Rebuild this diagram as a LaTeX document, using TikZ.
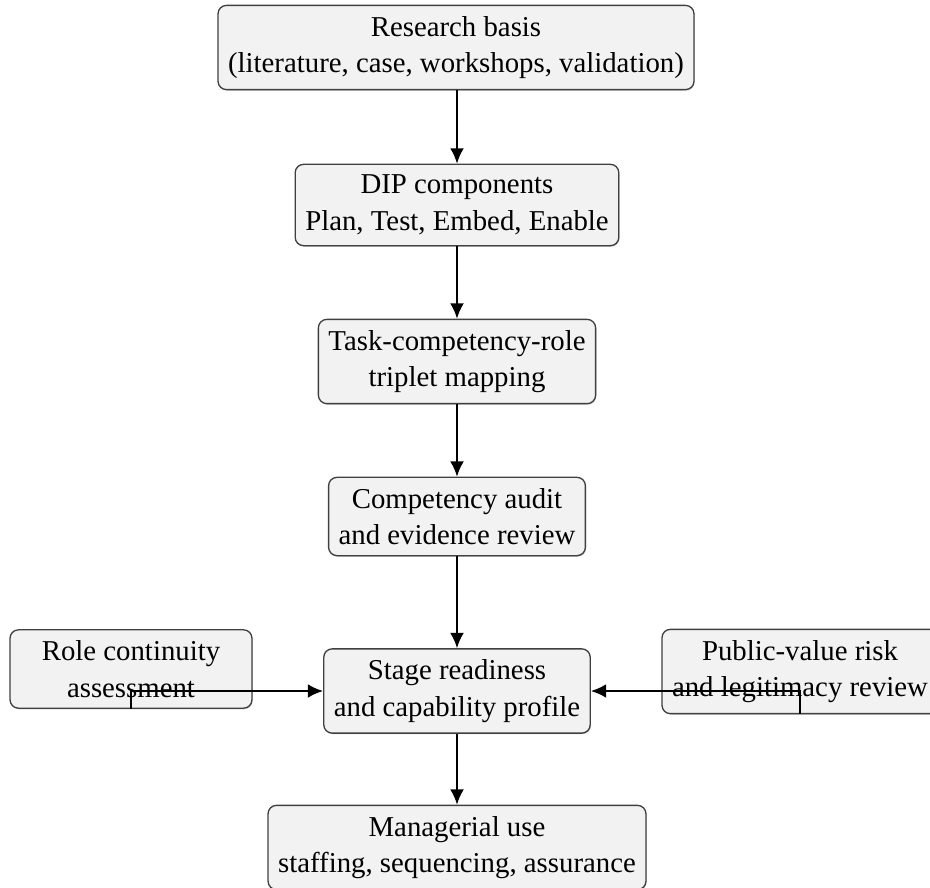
\documentclass[tikz,border=0pt]{standalone}
\usepackage{fontspec}
\setmainfont{Liberation Serif}
\usetikzlibrary{arrows.meta,shadows}
\begin{document}
\begin{tikzpicture}[x=0.4167pt,y=-0.4167pt,
  box/.style={draw=black!75, fill=black!5, line width=0.55pt, rounded corners=3.5pt,
    align=center, inner xsep=4.2pt, inner ysep=4.5pt,
    font=\fontsize{12}{15.2}\selectfont,
    drop shadow={shadow xshift=0.3pt, shadow yshift=-0.45pt, opacity=0.35, fill=black!60}},
  arr/.style={line width=0.85pt, -{Latex[length=6.4pt,width=5.8pt]}}]
\useasboundingbox (0,0) rectangle (930,888);
\node[box] (res) at (456,47.5) {Research basis\\(literature, case, workshops, validation)};
\node[box] (dip) at (457,205) {DIP components\\Plan, Test, Embed, Enable};
\node[box] (task) at (457,361.5) {Task-competency-role\\triplet mapping};
\node[box] (aud) at (457,516.5) {Competency audit\\and evidence review};
\node[box] (stage) at (457,691) {Stage readiness\\and capability profile};
\node[box] (man) at (457,847.5) {Managerial use\\staffing, sequencing, assurance};
\node[box, minimum width=100.8pt] (role) at (131,669) {Role continuity\\assessment};
\node[box] (pv) at (800,671.5) {Public-value risk\\and legitimacy review};
\draw[arr] (res.south -| dip.north) -- (dip.north);
\draw[arr] (dip) -- (task);
\draw[arr] (task) -- (aud);
\draw[arr] (aud) -- (stage);
\draw[arr] (stage) -- (man);
\draw[arr] (role.south) |- (stage.west);
\draw[arr] (pv.south) |- (stage.east);
\end{tikzpicture}
\end{document}
